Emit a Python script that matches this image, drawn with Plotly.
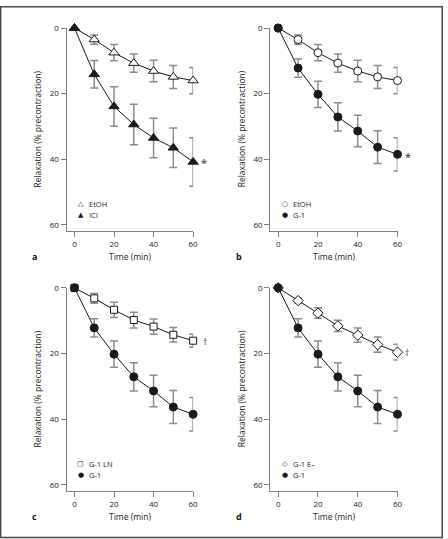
import plotly.graph_objects as go

W, H = 448, 539

time_min = [0, 10, 20, 30, 40, 50, 60]

etoh = [0, 3.5, 7.5, 10.7, 13.1, 14.9, 16.0]
etoh_err = [None, 1.4, 2.5, 2.8, 3.3, 3.5, 4.0]

ici = [0, 14.1, 23.9, 29.4, 33.5, 36.5, 40.8]
ici_err = [None, 4.2, 6.0, 6.2, 6.0, 6.0, 7.4]

g1 = [0, 12.2, 20.2, 27.1, 31.4, 36.3, 38.5]
g1_err = [None, 2.8, 4.0, 4.3, 4.8, 5.0, 5.1]

g1_ln = [0, 3.2, 6.7, 9.8, 11.8, 14.3, 16.1]
g1_ln_err = [None, 1.5, 2.3, 2.4, 2.3, 2.2, 2.0]

g1_e = [0, 3.9, 7.7, 11.6, 14.4, 17.3, 19.6]
g1_e_err = [None, 0.7, 1.6, 1.7, 2.2, 2.3, 2.4]

y_ticks = [0, 20, 40, 60]
x_ticks = [0, 20, 40, 60]

FONT = "Open Sans"
LINE = "#1a1a1a"
ERR = "#8c8c8c"
AX = "#808080"
TXT = "#222222"

# panel pixel boxes: (left, right, top, bottom)
boxes = {
    1: (67.3, 195.3, 22.3, 228.0),
    2: (273.3, 402.0, 22.3, 228.0),
    3: (67.3, 195.3, 285.0, 490.9),
    4: (273.3, 402.0, 285.0, 490.9),
}

panels = {
    1: [("EtOH", etoh, etoh_err, "triangle-up-open", 9), ("ICI", ici, ici_err, "triangle-up", 9)],
    2: [("EtOH", etoh, etoh_err, "circle-open", 8), ("G-1", g1, g1_err, "circle", 8)],
    3: [("G-1 LN", g1_ln, g1_ln_err, "square-open", 7), ("G-1", g1, g1_err, "circle", 8)],
    4: [("G-1 E\u2013", g1_e, g1_e_err, "diamond-open", 8), ("G-1", g1, g1_err, "circle", 8)],
}
legend_syms = {
    1: ["\u25b3", "\u25b2"],
    2: ["\u25cb", "\u25cf"],
    3: ["\u25a1", "\u25cf"],
    4: ["\u25c7", "\u25cf"],
}
letters = {1: "a", 2: "b", 3: "c", 4: "d"}
# significance symbols: (text, pixel x, pixel y)
marks = {1: ("*", 206.0, 156.5), 2: ("*", 412.3, 150.4), 3: ("\u2020", 207.3, 338.8), 4: ("\u2020", 411.7, 350.4)}

fig = go.Figure()
annotations = []

def px2x(px):
    return px / W

def py2y(py):
    return 1 - py / H

for p, series in panels.items():
    sfx = "" if p == 1 else str(p)
    xa, ya = "x" + sfx, "y" + sfx
    for name, vals, err, sym, size in series:
        filled = not sym.endswith("open")
        fig.add_trace(go.Scatter(
            x=time_min, y=vals, mode="lines+markers", name=name, showlegend=False,
            xaxis=xa, yaxis=ya, cliponaxis=False,
            line=dict(color=LINE, width=1),
            marker=dict(symbol=sym.replace("-open", ""), size=size,
                        color=LINE if filled else "white",
                        line=dict(color=LINE, width=1)),
            error_y=dict(type="data", array=err, visible=True, color=ERR,
                         thickness=1.5, width=4),
        ))
    l, r, t, b = boxes[p]
    common = dict(showgrid=False, zeroline=False, showline=True, linecolor=AX, linewidth=1,
                  ticks="outside", ticklen=5, tickwidth=1, tickcolor=AX,
                  tickfont=dict(family=FONT, size=8, color=TXT))
    fig.update_layout(**{
        "xaxis" + sfx: dict(domain=[px2x(l), px2x(r)], anchor=ya, range=[-4, 60],
                            tickvals=x_ticks, **common),
        "yaxis" + sfx: dict(domain=[py2y(b), py2y(t)], anchor=xa, range=[62, 0],
                            tickvals=y_ticks, **common),
    })
    # axis titles
    annotations.append(dict(text="Time (min)", xref="paper", yref="paper",
                            x=px2x((l + r) / 2 + 0.5), y=py2y(b + 25), showarrow=False,
                            font=dict(family=FONT, size=8.5, color=TXT),
                            xanchor="center", yanchor="middle"))
    annotations.append(dict(text="Relaxation (% precontraction)", xref="paper", yref="paper",
                            x=px2x(l - 29), y=py2y((t + b) / 2 - 1), showarrow=False, textangle=-90,
                            font=dict(family=FONT, size=8.5, color=TXT),
                            xanchor="center", yanchor="middle"))
    # panel letter
    annotations.append(dict(text="<b>%s</b>" % letters[p], xref="paper", yref="paper",
                            x=px2x(l - 32), y=py2y(b + 25), showarrow=False,
                            font=dict(family=FONT, size=9, color="#111"),
                            xanchor="center", yanchor="middle"))
    # significance marks
    m, mx, my = marks[p]
    annotations.append(dict(text=m, xref="paper", yref="paper", x=px2x(mx), y=py2y(my + (2 if m == "*" else 0)),
                            showarrow=False, borderpad=0,
                            font=dict(family=FONT, size=11 if m == "*" else 8.5, color=TXT),
                            xanchor="center", yanchor="middle"))
    # legend
    legend_top = 200 if p in (1, 2) else 462.7
    for i, (name, *_rest) in enumerate(series):
        yy = legend_top + i * 11.3
        annotations.append(dict(text=legend_syms[p][i], xref="paper", yref="paper",
                                x=px2x(l + 14.5), y=py2y(yy), showarrow=False, borderpad=0,
                                font=dict(family="DejaVu Sans", size=7, color=LINE),
                                xanchor="center", yanchor="middle"))
        annotations.append(dict(text=name, xref="paper", yref="paper",
                                x=px2x(l + 21.5), y=py2y(yy), showarrow=False, borderpad=0,
                                font=dict(family=FONT, size=7.5, color=TXT),
                                xanchor="left", yanchor="middle"))

fig.update_layout(
    width=W, height=H, margin=dict(l=0, r=0, t=0, b=0),
    paper_bgcolor="white", plot_bgcolor="white",
    showlegend=False, annotations=annotations,
    shapes=[dict(type="rect", xref="paper", yref="paper",
                 x0=px2x(0.7), x1=px2x(447.2), y0=py2y(537.4), y1=py2y(0.7),
                 line=dict(color="#4a4a4a", width=1.5))],
)

fig.write_html("out.html", config={"displayModeBar": False},
               post_script="document.body.style.margin='0px';document.body.style.overflow='hidden';")
